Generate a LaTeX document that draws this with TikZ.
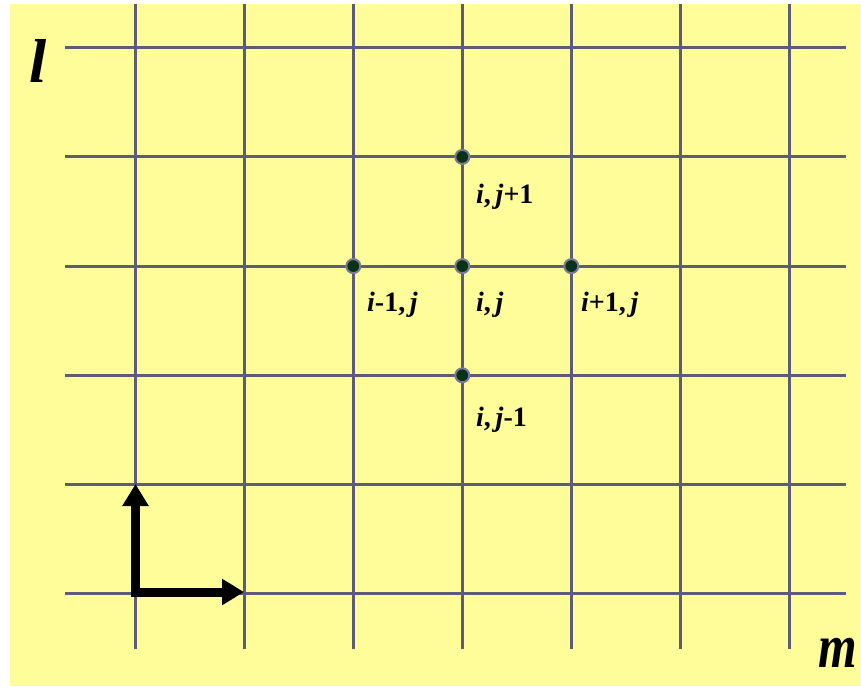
\documentclass[tikz,border=0pt]{standalone}
\usepackage{fontspec}
\setmainfont{Liberation Serif}
\usetikzlibrary{arrows.meta}
\definecolor{bg}{HTML}{FFFD99}
\definecolor{gridc}{HTML}{5C5C7A}
\definecolor{dotc}{HTML}{0A3316}
\definecolor{haloc}{HTML}{7A7A98}
\tikzset{
  gridline/.style={draw=gridc, line width=3pt},
  gdot/.style={circle, fill=dotc, draw=haloc, line width=2pt, minimum size=14pt, inner sep=0pt},
  lab/.style={anchor=base west, inner sep=0pt, font=\fontsize{28}{28}\selectfont\bfseries},
  axlab/.style={inner sep=0pt, font=\fontsize{62}{62}\selectfont\bfseries\itshape},
  axarrow/.style={line width=9pt, line join=miter, {Triangle[length=22pt,width=25pt]}-{Triangle[length=22pt,width=25pt]}}
}
\begin{document}
\begin{tikzpicture}[x=1pt,y=-1pt]
\useasboundingbox (0,0) rectangle (861,686);
\fill[bg] (10,4) rectangle (861,686);
\foreach \x in {135.3,244.3,353.3,462.3,571.3,680.3,789.3}
  \draw[gridline] (\x,4) -- (\x,649);
\foreach \y in {47.7,156.9,266.1,375.3,484.5,593.7}
  \draw[gridline] (65,\y) -- (846,\y);
% points
\node[gdot] (top) at (462.3,156.9) {};
\node[gdot] (left) at (353.3,266.1) {};
\node[gdot] (ctr) at (462.3,266.1) {};
\node[gdot] (right) at (571.3,266.1) {};
\node[gdot] (bot) at (462.3,375.3) {};
% labels
\node[lab] (ltop) at (476,203) {\textit{i},\,\textit{j}+1};
\node[lab] (lleft) at (367,311) {\textit{i}-1,\,\textit{j}};
\node[lab] (lctr) at (476,311) {\textit{i},\,\textit{j}};
\node[lab] (lright) at (581,311) {\textit{i}+1,\,\textit{j}};
\node[lab] (lbot) at (476,426) {\textit{i},\,\textit{j}-1};
% axis labels
\node[axlab, anchor=base west] (al) at (29,82) {l};
\node[axlab, anchor=base east, xscale=0.8] (am) at (857,667) {m};
% axes arrows
\coordinate (o) at (135.5,592);
\coordinate (ytip) at (135.5,484);
\coordinate (xtip) at (244,592);
\draw[axarrow] (ytip) -- (o.center) -- (xtip);
\end{tikzpicture}
\end{document}
